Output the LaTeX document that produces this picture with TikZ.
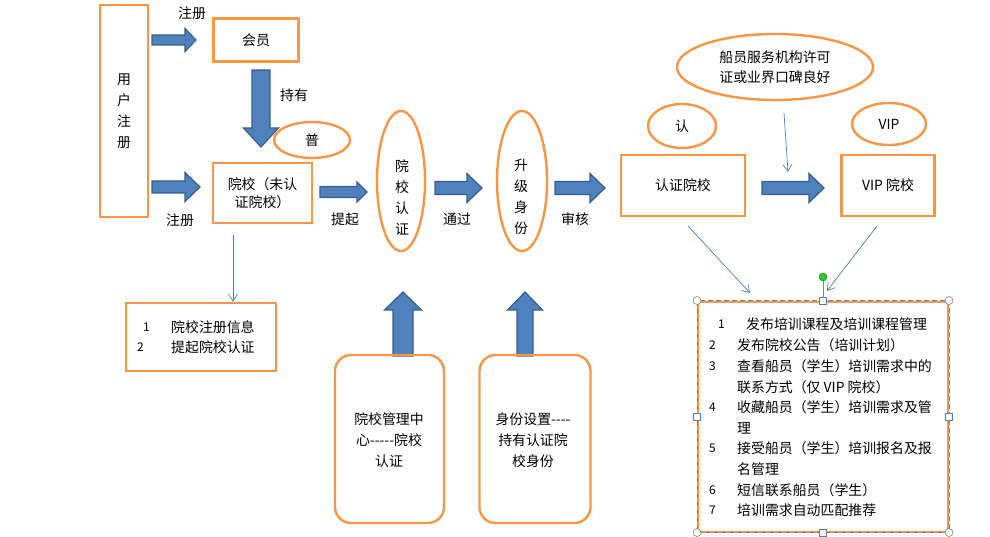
\documentclass[tikz,border=0pt]{standalone}
\usepackage{fontspec}
\setmainfont{Noto Sans CJK SC}
\usetikzlibrary{shapes.geometric,arrows.meta}
\definecolor{orng}{HTML}{F79646}
\definecolor{afill}{HTML}{4F81BD}
\definecolor{aline}{HTML}{385D8A}
\definecolor{thinc}{HTML}{4A7EBB}
\definecolor{selc}{HTML}{5B7FB0}
\newcommand\rblk[6]{\draw[blk] (#1,#3-#4) -- (#2-#6,#3-#4) -- (#2-#6,#3-#5) -- (#2,#3) -- (#2-#6,#3+#5) -- (#2-#6,#3+#4) -- (#1,#3+#4) -- cycle;}
\newcommand\dblk[6]{\draw[blk] (#1-#4,#2) -- (#1-#4,#3-#6) -- (#1-#5,#3-#6) -- (#1,#3) -- (#1+#5,#3-#6) -- (#1+#4,#3-#6) -- (#1+#4,#2) -- cycle;}
\newcommand\ublk[6]{\draw[blk] (#1-#4,#2) -- (#1-#4,#3+#6) -- (#1-#5,#3+#6) -- (#1,#3) -- (#1+#5,#3+#6) -- (#1+#4,#3+#6) -- (#1+#4,#2) -- cycle;}
\begin{document}
\begin{tikzpicture}[x=1pt,y=-1pt, font=\fontsize{13.9}{21}\selectfont,
 obox/.style={draw=orng, line width=2.4pt, inner sep=0pt, align=center},
 oell/.style={draw=orng, line width=2.4pt, ellipse, inner sep=0pt, align=center},
 blk/.style={fill=afill, draw=aline, line width=1.2pt, line join=miter},
 thinarr/.style={draw=thinc, line width=0.7pt, -{Straight Barb[length=7pt,width=9pt]}},
 lbl/.style={inner sep=0pt, align=center},
 lt/.style={inner sep=0pt, anchor=west},
 hcirc/.style={circle, draw=gray, fill=white, inner sep=0pt, minimum size=8pt, line width=0.6pt},
 hsq/.style={rectangle, draw=selc, fill=white, inner sep=0pt, minimum size=7pt, line width=0.6pt}]
\useasboundingbox (0,0) rectangle (990,537);

% block arrows
\rblk{152}{196}{40}{5}{11.5}{11}
\rblk{152}{200}{187}{6}{14.5}{15}
\rblk{320}{367}{192}{5.5}{10}{10}
\rblk{435}{482}{188}{6.5}{14.5}{15}
\rblk{555}{605}{188}{6.5}{14.5}{15}
\rblk{762}{824}{188}{6.5}{14.5}{15}
\dblk{261}{70}{147}{9}{17.5}{19}
\ublk{403}{356}{292}{10}{18.5}{18}
\ublk{525}{356}{292}{8}{17.5}{18}

% boxes
\node[obox, minimum width=48pt, minimum height=212pt] (user) at (124,111) {用\\户\\注\\册};
\node[obox, minimum width=85pt, minimum height=43pt] (member) at (256,40) {会员};
\node[obox, minimum width=99pt, minimum height=60pt, font=\fontsize{13.9}{18}\selectfont] (school) at (262.5,193) {院校（未认\\证院校）};
\node[oell, minimum width=76pt, minimum height=36pt] (pu) at (312,140) {普};
\node[oell, minimum width=48pt, minimum height=140pt] (cert) at (401,181) {};
\node[lbl] (certtxt) at (402,197) {院\\校\\认\\证};
\node[oell, minimum width=50pt, minimum height=140pt] (upg) at (522,181) {};
\node[lbl] (upgtxt) at (521,197) {升\\级\\身\\份};
\node[obox, minimum width=124pt, minimum height=61pt] (certsch) at (683,185.5) {认证院校};
\node[oell, minimum width=68pt, minimum height=44pt] (ren) at (682,126) {认};
\node[obox, minimum width=93pt, minimum height=61pt] (vipsch) at (888,185.5) {VIP 院校};
\node[oell, minimum width=74pt, minimum height=42pt] (vipe) at (889,124) {VIP};
\node[oell, minimum width=196pt, minimum height=66pt, font=\fontsize{13.9}{20}\selectfont] (lic) at (775,67) {船员服务机构许可\\证或业界口碑良好};

% labels
\node[lbl] (l1) at (192,13) {注册};
\node[lbl] (l2) at (294,95) {持有};
\node[lbl] (l3) at (180,220) {注册};
\node[lbl] (l4) at (345,219) {提起};
\node[lbl] (l5) at (457,219) {通过};
\node[lbl] (l6) at (575,219) {审核};

% list box 1
\node[obox, minimum width=150pt, minimum height=68pt] (list1) at (201,337) {};
\node[lt] (n11) at (143,327) {\fontsize{12}{14}\selectfont 1};
\node[lt] (t11) at (171,327) {院校注册信息};
\node[lt] (n12) at (137,347) {\fontsize{12}{14}\selectfont 2};
\node[lt] (t12) at (171,347) {提起院校认证};

% rounded boxes
\node[obox, rounded corners=16pt, minimum width=109pt, minimum height=168pt] (mgmt) at (389.5,439) {};
\node[lbl] (mgmttxt) at (389,440) {院校管理中\\心-{}-{}-{}-{}-院校\\认证};
\node[obox, rounded corners=16pt, minimum width=111pt, minimum height=168pt] (idset) at (535,439) {};
\node[lbl] (idsettxt) at (533,440) {身份设置-{}-{}-{}-\\持有认证院\\校身份};

% right box
\node[obox, line width=2pt, minimum width=250pt, minimum height=230pt] (rbox) at (823,416.5) {};
\draw[selc, line width=0.7pt, dash pattern=on 5pt off 3pt] (rbox.north west) rectangle (rbox.south east);
\node[lt] (r1n) at (718,324) {\fontsize{12}{14}\selectfont 1};
\node[lt] (r1) at (746,324) {发布培训课程及培训课程管理};
\node[lt] (r2n) at (709,345) {\fontsize{12}{14}\selectfont 2};
\node[lt] (r2) at (737,345) {发布院校公告（培训计划）};
\node[lt] (r3n) at (709,366) {\fontsize{12}{14}\selectfont 3};
\node[lt] (r3) at (737,366) {查看船员（学生）培训需求中的};
\node[lt] (r3b) at (737,387) {联系方式（仅 VIP 院校）};
\node[lt] (r4n) at (709,407) {\fontsize{12}{14}\selectfont 4};
\node[lt] (r4) at (737,407) {收藏船员（学生）培训需求及管};
\node[lt] (r4b) at (737,428) {理};
\node[lt] (r5n) at (709,448) {\fontsize{12}{14}\selectfont 5};
\node[lt] (r5) at (737,448) {接受船员（学生）培训报名及报};
\node[lt] (r5b) at (737,469) {名管理};
\node[lt] (r6n) at (709,490) {\fontsize{12}{14}\selectfont 6};
\node[lt] (r6) at (737,490) {短信联系船员（学生）};
\node[lt] (r7n) at (709,510) {\fontsize{12}{14}\selectfont 7};
\node[lt] (r7) at (737,510) {培训需求自动匹配推荐};

% selection handles
\node[circle, fill=green!70!black!80, draw=green!50!black, inner sep=0pt, minimum size=8pt] (rot) at (823,277) {};
\draw[gray, line width=0.5pt] (rot) -- (rbox.north);
\foreach \a in {north west, north east, south west, south east}
  \node[hcirc] at (rbox.\a) {};
\foreach \a in {north, south, west, east}
  \node[hsq] at (rbox.\a) {};

% thin arrows
\coordinate (s1) at (233,235);
\draw[thinarr] (s1) -- (list1.north -| s1);
\coordinate (s2) at (784,113);
\coordinate (e2) at (788,172);
\draw[thinarr] (s2) -- (e2);
\coordinate (s3) at (688,226);
\coordinate (e3) at (750,293);
\draw[thinarr] (s3) -- (e3);
\coordinate (s4) at (877,226);
\coordinate (e4) at (827,291);
\draw[thinarr] (s4) -- (e4);
\end{tikzpicture}
\end{document}
